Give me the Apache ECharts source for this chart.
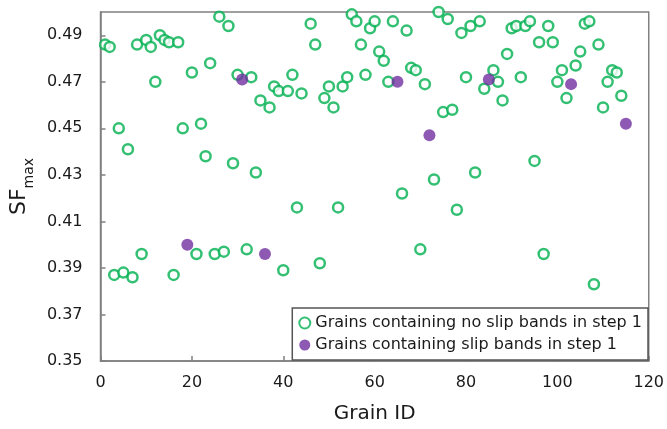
<!DOCTYPE html>
<html>
<head>
<meta charset="utf-8">
<script src="https://cdn.jsdelivr.net/npm/echarts@6/dist/echarts.min.js"></script>
<style>
  html, body { margin: 0; padding: 0; background: #fff; }
  #main { width: 667px; height: 429px; }
</style>
</head>
<body>
<div id="main"></div>
<script>
// 数据：无滑移带的晶粒
const noSlipIds = [1, 2, 3, 4, 5, 6, 7, 8, 9, 10, 11, 12, 13, 14, 15, 16, 17, 18, 20, 21,
  22, 23, 24, 25, 26, 27, 28, 29, 30, 32, 33, 34, 35, 37, 38, 39, 40, 41, 42, 43,
  44, 46, 47, 48, 49, 50, 51, 52, 53, 54, 55, 56, 57, 58, 59, 60, 61, 62, 63, 64,
  66, 67, 68, 69, 70, 71, 73, 74, 75, 76, 77, 78, 79, 80, 81, 82, 83, 84, 86, 87,
  88, 89, 90, 91, 92, 93, 94, 95, 96, 97, 98, 99, 100, 101, 102, 104, 105, 106, 107, 108,
  109, 110, 111, 112, 113, 114]
const noSlipSF = [0.486, 0.485, 0.387, 0.450, 0.388, 0.441, 0.386, 0.486, 0.396, 0.488, 0.485, 0.470, 0.490, 0.488, 0.487, 0.387, 0.487, 0.450, 0.474, 0.396,
  0.452, 0.438, 0.478, 0.396, 0.498, 0.397, 0.494, 0.435, 0.473, 0.398, 0.472, 0.431, 0.462, 0.459, 0.468, 0.466, 0.389, 0.466, 0.473, 0.416,
  0.465, 0.495, 0.486, 0.392, 0.463, 0.468, 0.459, 0.416, 0.468, 0.472, 0.499, 0.496, 0.486, 0.473, 0.493, 0.496, 0.483, 0.479, 0.470, 0.496,
  0.422, 0.492, 0.476, 0.475, 0.398, 0.469, 0.428, 0.500, 0.457, 0.497, 0.458, 0.415, 0.491, 0.472, 0.494, 0.431, 0.496, 0.467, 0.475, 0.470,
  0.462, 0.482, 0.493, 0.494, 0.472, 0.494, 0.496, 0.436, 0.487, 0.396, 0.494, 0.487, 0.470, 0.475, 0.463, 0.477, 0.483, 0.495, 0.496, 0.383,
  0.486, 0.459, 0.470, 0.475, 0.474, 0.464]

// 数据：有滑移带的晶粒
const slipIds = [19, 31, 36, 65, 72, 85, 103, 115]
const slipSF = [0.400, 0.471, 0.396, 0.470, 0.447, 0.471, 0.469, 0.452]

const green = '#00b050'
const purple = '#7030a0'
const font = 'DejaVu Sans'

const dom = document.getElementById('main')
const myChart = echarts.init(dom)

const option = {
  animation: false,
  textStyle: { fontFamily: font },
  grid: {
    left: 90,
    right: 16,
    top: 12,
    bottom: 65,
    show: true,
    borderColor: '#808080',
    borderWidth: 1.5
  },
  legend: {
    orient: 'vertical',
    right: 19,
    bottom: 69,
    backgroundColor: '#fff',
    borderColor: '#555',
    borderWidth: 1.5,
    borderRadius: 0,
    padding: [7, 6, 7, 6],
    itemGap: 6,
    itemWidth: 11,
    itemHeight: 11,
    textStyle: { fontFamily: font, fontSize: 16, color: '#1a1a1a' },
    data: ['Grains containing no slip bands in step 1', 'Grains containing slip bands in step 1']
  },
  xAxis: {
    type: 'value',
    min: 0,
    max: 120,
    interval: 20,
    name: 'Grain ID',
    nameLocation: 'middle',
    nameGap: 43,
    nameTextStyle: { fontFamily: font, fontSize: 20, color: '#1a1a1a' },
    axisLine: { lineStyle: { color: '#808080', width: 1.5 } },
    axisTick: { inside: true, length: 5, lineStyle: { color: '#808080', width: 1.5 } },
    axisLabel: { fontFamily: font, fontSize: 16, color: '#1a1a1a', margin: 14 },
    splitLine: { show: false }
  },
  yAxis: {
    type: 'value',
    min: 0.35,
    max: 0.50,
    interval: 0.02,
    name: '{a|SF}{b|max}',
    nameLocation: 'middle',
    nameGap: 54,
    nameTextStyle: {
      rich: {
        a: { fontFamily: font, fontSize: 22, color: '#1a1a1a', lineHeight: 34, verticalAlign: 'middle' },
        b: { fontFamily: font, fontSize: 14, color: '#1a1a1a', verticalAlign: 'bottom' }
      }
    },
    axisLine: { show: true, lineStyle: { color: '#808080', width: 1.5 } },
    axisTick: { show: true, inside: true, length: 5, lineStyle: { color: '#808080', width: 1.5 } },
    axisLabel: {
      fontFamily: font,
      fontSize: 16,
      color: '#1a1a1a',
      margin: 18,
      showMaxLabel: false,
      formatter: v => v.toFixed(2)
    },
    splitLine: { show: false }
  },
  series: [
    {
      name: 'Grains containing no slip bands in step 1',
      type: 'scatter',
      symbol: 'circle',
      symbolSize: 10,
      itemStyle: { color: '#fff', borderColor: green, borderWidth: 2.5 },
      data: noSlipIds.map((id, i) => [id, noSlipSF[i]])
    },
    {
      name: 'Grains containing slip bands in step 1',
      type: 'scatter',
      symbol: 'circle',
      symbolSize: 12,
      itemStyle: { color: purple },
      data: slipIds.map((id, i) => [id, slipSF[i]])
    }
  ]
}

myChart.setOption(option)
</script>
</body>
</html>
